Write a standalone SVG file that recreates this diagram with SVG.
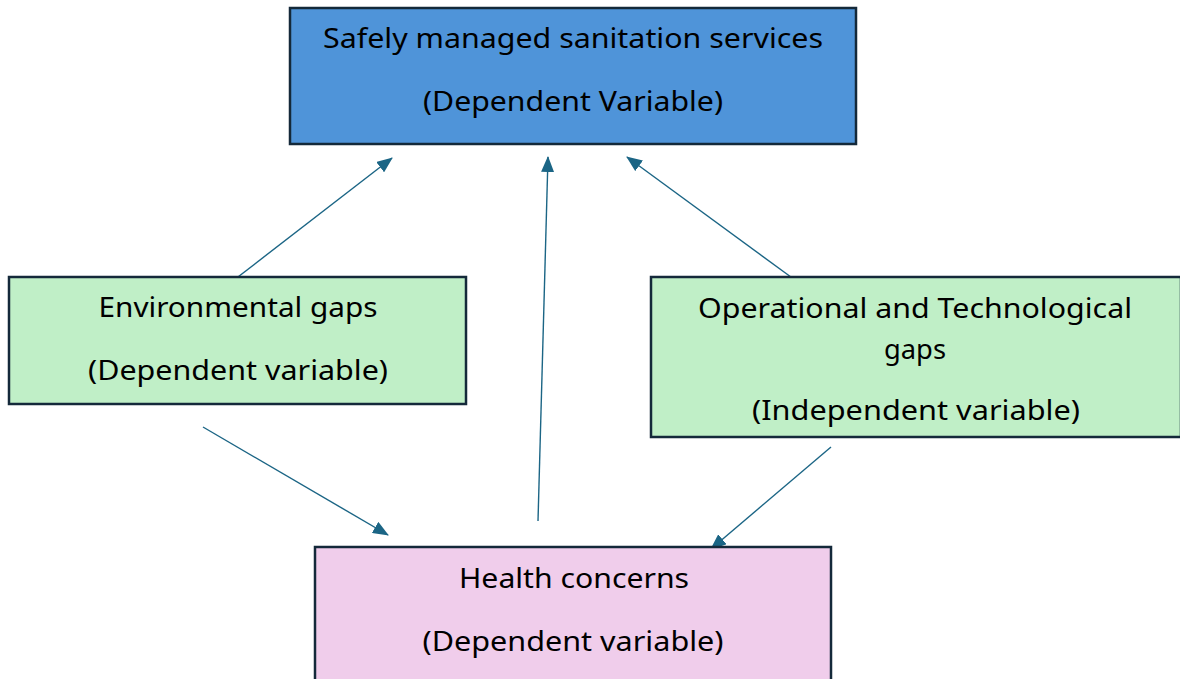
<svg xmlns="http://www.w3.org/2000/svg" width="1180" height="679" viewBox="0 0 1180 679">
  <style>
    .box { stroke: #14293a; stroke-width: 2.5; }
    .lbl { font-family: "Noto Sans", "Liberation Sans", Arial, sans-serif; font-size: 28px; fill: #000; text-anchor: middle; }
    .conn { stroke: #1b6585; stroke-width: 1.4; fill: none; marker-end: url(#arrow); }
  </style>
  <defs>
    <marker id="arrow" markerWidth="16" markerHeight="13" refX="15" refY="6.5" orient="auto" markerUnits="userSpaceOnUse" viewBox="0 0 16 13">
      <path d="M0,0 L16,6.5 L0,13 Z" fill="#1b6585"/>
    </marker>
  </defs>

  <rect width="1180" height="679" fill="#ffffff"/>

  <!-- connectors -->
  <g id="connectors">
    <line class="conn" x1="234" y1="280" x2="392" y2="158"/>
    <line class="conn" x1="538" y1="521" x2="548" y2="157"/>
    <line class="conn" x1="795" y1="280" x2="627" y2="157"/>
    <line class="conn" x1="203" y1="427" x2="388" y2="535"/>
    <line class="conn" x1="831" y1="447" x2="711" y2="549"/>
  </g>

  <!-- dependent: sanitation services -->
  <g id="node-sanitation">
    <rect class="box" x="290" y="8" width="566" height="136" fill="#4f94d9"/>
    <text class="lbl" x="573" y="48" textLength="500" lengthAdjust="spacingAndGlyphs">Safely managed sanitation services</text>
    <text class="lbl" x="573" y="111" textLength="300" lengthAdjust="spacingAndGlyphs">(Dependent Variable)</text>
  </g>

  <!-- environmental gaps -->
  <g id="node-environmental">
    <rect class="box" x="9" y="277" width="457" height="127" fill="#c0efc7"/>
    <text class="lbl" x="238" y="317" textLength="279" lengthAdjust="spacingAndGlyphs">Environmental gaps</text>
    <text class="lbl" x="238" y="380" textLength="300" lengthAdjust="spacingAndGlyphs">(Dependent variable)</text>
  </g>

  <!-- operational and technological gaps -->
  <g id="node-operational">
    <rect class="box" x="651" y="277" width="530" height="160" fill="#c0efc7"/>
    <text class="lbl" x="915" y="318" textLength="434" lengthAdjust="spacingAndGlyphs">Operational and Technological</text>
    <text class="lbl" x="915" y="359" textLength="62" lengthAdjust="spacingAndGlyphs">gaps</text>
    <text class="lbl" x="916" y="420" textLength="328" lengthAdjust="spacingAndGlyphs">(Independent variable)</text>
  </g>

  <!-- health concerns -->
  <g id="node-health">
    <rect class="box" x="315" y="547" width="516" height="140" fill="#f0cdeb"/>
    <text class="lbl" x="574" y="588" textLength="230" lengthAdjust="spacingAndGlyphs">Health concerns</text>
    <text class="lbl" x="573" y="651" textLength="301" lengthAdjust="spacingAndGlyphs">(Dependent variable)</text>
  </g>
</svg>
